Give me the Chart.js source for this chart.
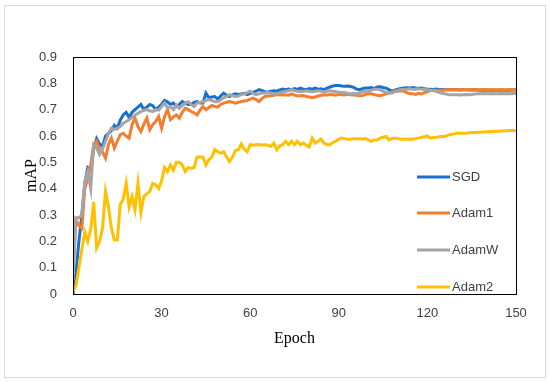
<!DOCTYPE html>
<html>
<head>
<meta charset="utf-8">
<script src="https://cdn.jsdelivr.net/npm/chart.js@4"></script>
<style>
  html, body { margin: 0; padding: 0; background: #fff; }
  #wrap { position: relative; width: 550px; height: 383px; }
  #frame { position: absolute; left: 4px; top: 5px; width: 540px; height: 371px; border: 1px solid #d9d9d9; pointer-events: none; }
</style>
</head>
<body>
<div id="wrap">
  <canvas id="mapChart" width="550" height="383"></canvas>
  <div id="frame"></div>
</div>
<script>
// epochs 0..150
const epochs = Array.from({ length: 151 }, (_, i) => i);

const sgd = [
  0.00, 0.08, 0.20, 0.30, 0.42, 0.48, 0.47, 0.55, 0.59, 0.57,
  0.56, 0.60, 0.61, 0.62, 0.64, 0.63, 0.66, 0.68, 0.69, 0.67,
  0.69, 0.70, 0.71, 0.72, 0.70, 0.71, 0.72, 0.715, 0.70, 0.71,
  0.72, 0.735, 0.73, 0.72, 0.725, 0.712, 0.72, 0.731, 0.725, 0.72,
  0.72, 0.728, 0.731, 0.725, 0.725, 0.763, 0.745, 0.748, 0.75, 0.74,
  0.752, 0.763, 0.755, 0.75, 0.756, 0.76, 0.758, 0.76, 0.762, 0.757,
  0.762, 0.766, 0.77, 0.776, 0.772, 0.768, 0.766, 0.77, 0.772, 0.77,
  0.775, 0.778, 0.776, 0.778, 0.776, 0.78, 0.777, 0.782, 0.778, 0.776,
  0.78, 0.778, 0.782, 0.778, 0.779, 0.776, 0.782, 0.786, 0.79, 0.792,
  0.792, 0.79, 0.789, 0.79, 0.788, 0.785, 0.778, 0.776, 0.78, 0.782,
  0.782, 0.784, 0.78, 0.786, 0.787, 0.784, 0.782, 0.776, 0.77, 0.774,
  0.778, 0.78, 0.782, 0.783, 0.782, 0.784, 0.782, 0.781, 0.782, 0.779,
  0.778, 0.778, 0.777, 0.778, 0.776, 0.777, 0.776, 0.776, 0.777, 0.776,
  0.776, 0.775, 0.776, 0.776, 0.775, 0.776, 0.775, 0.775, 0.774, 0.774,
  0.775, 0.774, 0.774, 0.774, 0.774, 0.775, 0.774, 0.774, 0.774, 0.775,
  0.775
];

const adam1 = [
  0.10, 0.28, 0.26, 0.25, 0.40, 0.44, 0.49, 0.567, 0.58, 0.55,
  0.54, 0.516, 0.567, 0.592, 0.554, 0.58, 0.605, 0.61, 0.60, 0.592,
  0.643, 0.668, 0.636, 0.617, 0.645, 0.668, 0.624, 0.643, 0.655, 0.674,
  0.63, 0.674, 0.70, 0.662, 0.672, 0.68, 0.668, 0.69, 0.706, 0.70,
  0.693, 0.688, 0.68, 0.698, 0.712, 0.70, 0.708, 0.716, 0.712, 0.71,
  0.72, 0.725, 0.728, 0.731, 0.728, 0.725, 0.728, 0.731, 0.733, 0.735,
  0.74, 0.744, 0.738, 0.731, 0.742, 0.75, 0.752, 0.753, 0.755, 0.757,
  0.757, 0.756, 0.757, 0.755, 0.76, 0.755, 0.752, 0.753, 0.754, 0.75,
  0.748, 0.745, 0.748, 0.752, 0.755, 0.757, 0.756, 0.758, 0.757, 0.755,
  0.758, 0.757, 0.756, 0.758, 0.757, 0.756, 0.755, 0.753, 0.754, 0.758,
  0.76, 0.76, 0.757, 0.755, 0.753, 0.756, 0.76, 0.763, 0.766, 0.77,
  0.77, 0.772, 0.77, 0.765, 0.76, 0.76, 0.758, 0.762, 0.76, 0.765,
  0.768, 0.772, 0.774, 0.774, 0.772, 0.774, 0.775, 0.776, 0.776, 0.776,
  0.777, 0.776, 0.776, 0.777, 0.776, 0.776, 0.777, 0.776, 0.776, 0.777,
  0.776, 0.776, 0.777, 0.776, 0.776, 0.777, 0.776, 0.776, 0.777, 0.776,
  0.776
];

const adamW = [
  0.05, 0.29, 0.29, 0.30, 0.427, 0.465, 0.40, 0.567, 0.554, 0.53,
  0.55, 0.58, 0.61, 0.63, 0.625, 0.63, 0.636, 0.649, 0.655, 0.662,
  0.67, 0.68, 0.686, 0.693, 0.698, 0.70, 0.696, 0.693, 0.70, 0.698,
  0.712, 0.725, 0.706, 0.712, 0.70, 0.718, 0.705, 0.715, 0.725, 0.73,
  0.72, 0.712, 0.725, 0.728, 0.73, 0.735, 0.738, 0.735, 0.73, 0.73,
  0.738, 0.745, 0.75, 0.757, 0.753, 0.75, 0.752, 0.757, 0.76, 0.765,
  0.77, 0.762, 0.757, 0.76, 0.763, 0.763, 0.765, 0.763, 0.76, 0.76,
  0.764, 0.766, 0.77, 0.772, 0.776, 0.772, 0.77, 0.768, 0.77, 0.772,
  0.77, 0.768, 0.77, 0.772, 0.77, 0.768, 0.77, 0.772, 0.77, 0.768,
  0.766, 0.764, 0.765, 0.762, 0.76, 0.762, 0.76, 0.764, 0.768, 0.77,
  0.77, 0.774, 0.778, 0.778, 0.775, 0.77, 0.765, 0.763, 0.763, 0.768,
  0.774, 0.776, 0.778, 0.778, 0.779, 0.778, 0.778, 0.779, 0.778, 0.777,
  0.776, 0.774, 0.772, 0.77, 0.766, 0.762, 0.76, 0.758, 0.757, 0.757,
  0.757, 0.756, 0.757, 0.758, 0.757, 0.758, 0.759, 0.76, 0.76, 0.761,
  0.76, 0.76, 0.761, 0.76, 0.76, 0.761, 0.76, 0.761, 0.76, 0.761,
  0.761
];

const adam2 = [
  0.01, 0.03, 0.10, 0.17, 0.235, 0.20, 0.245, 0.35, 0.175, 0.20,
  0.25, 0.39, 0.33, 0.25, 0.205, 0.205, 0.34, 0.36, 0.42, 0.33,
  0.37, 0.32, 0.42, 0.31, 0.37, 0.38, 0.39, 0.42, 0.415, 0.40,
  0.43, 0.48, 0.465, 0.49, 0.47, 0.50, 0.50, 0.49, 0.465, 0.48,
  0.478, 0.48, 0.52, 0.52, 0.52, 0.49, 0.51, 0.52, 0.548, 0.54,
  0.535, 0.54, 0.52, 0.503, 0.52, 0.545, 0.548, 0.57, 0.55, 0.54,
  0.567, 0.566, 0.567, 0.568, 0.566, 0.567, 0.565, 0.56, 0.573, 0.548,
  0.562, 0.567, 0.58, 0.567, 0.58, 0.567, 0.58, 0.567, 0.573, 0.565,
  0.558, 0.592, 0.573, 0.58, 0.588, 0.573, 0.567, 0.567, 0.575, 0.58,
  0.588, 0.592, 0.59, 0.588, 0.588, 0.59, 0.59, 0.59, 0.589, 0.59,
  0.585, 0.58, 0.585, 0.585, 0.592, 0.595, 0.598, 0.585, 0.59, 0.592,
  0.59, 0.588, 0.588, 0.588, 0.589, 0.588, 0.59, 0.592, 0.595, 0.597,
  0.60, 0.592, 0.594, 0.595, 0.597, 0.598, 0.598, 0.603, 0.606, 0.608,
  0.61, 0.61, 0.61, 0.61, 0.612, 0.613, 0.613, 0.614, 0.614, 0.615,
  0.616, 0.616, 0.617, 0.618, 0.618, 0.619, 0.62, 0.62, 0.621, 0.621,
  0.62
];

const seriesNames = ["SGD", "Adam1", "AdamW", "Adam2"];
const seriesValues = [sgd, adam1, adamW, adam2];
const seriesColors = ["#1a70d0", "#f27e30", "#a5a5a5", "#ffc000"];

const xTicks = [0, 30, 60, 90, 120, 150];

// box round the plot + legend inside the plot area (bottom right)
const boxAndLegend = {
  id: "boxAndLegend",
  afterDatasetsDraw(chart) {
    const { ctx, chartArea: a } = chart;
    ctx.save();
    ctx.strokeStyle = "#000";
    ctx.lineWidth = 1;
    ctx.strokeRect(Math.round(a.left) + 0.5, Math.round(a.top) + 0.5,
      Math.round(a.right - a.left), Math.round(a.bottom - a.top));

    const legendY = [177, 213, 250, 287];
    ctx.font = "13px 'Liberation Sans', Arial, sans-serif";
    ctx.textBaseline = "middle";
    ctx.fillStyle = "#404040";
    chart.data.datasets.forEach((ds, i) => {
      const y = legendY[i];
      ctx.strokeStyle = ds.borderColor;
      ctx.lineWidth = 3;
      ctx.beginPath();
      ctx.moveTo(417, y);
      ctx.lineTo(450, y);
      ctx.stroke();
      ctx.fillText(ds.label, 452, y);
    });
    ctx.restore();
  }
};

const ctx = document.getElementById("mapChart").getContext("2d");
new Chart(ctx, {
  type: "line",
  data: {
    datasets: seriesNames.map((name, i) => ({
      label: name,
      data: epochs.map((e, j) => ({ x: e, y: seriesValues[i][j] })),
      borderColor: seriesColors[i],
      backgroundColor: seriesColors[i],
      borderWidth: 3,
      pointRadius: 0,
      tension: 0,
      fill: false,
      order: 4 - i
    }))
  },
  options: {
    responsive: false,
    animation: false,
    devicePixelRatio: 1,
    layout: { padding: { left: 0, top: 57, right: 34, bottom: 0 } },
    plugins: {
      legend: { display: false },
      tooltip: { enabled: false }
    },
    scales: {
      x: {
        type: "linear",
        min: 0,
        max: 150,
        afterBuildTicks: scale => { scale.ticks = xTicks.map(v => ({ value: v })); },
        afterFit: scale => { scale.height = 89; },
        grid: { display: false, drawTicks: false },
        border: { display: false },
        ticks: {
          padding: 12,
          maxRotation: 0,
          color: "#404040",
          font: { family: "'Liberation Sans', Arial, sans-serif", size: 13 }
        },
        title: {
          display: true,
          text: "Epoch",
          color: "#000",
          font: { family: "'Liberation Serif', 'Times New Roman', serif", size: 16 },
          padding: { top: 0, bottom: 35 }
        }
      },
      y: {
        min: 0,
        max: 0.9,
        afterFit: scale => { scale.width = 73; },
        grid: { display: false, drawTicks: false },
        border: { display: false },
        ticks: {
          stepSize: 0.1,
          padding: 16,
          color: "#404040",
          font: { family: "'Liberation Sans', Arial, sans-serif", size: 13 },
          callback: v => (v === 0 ? "0" : v.toFixed(1))
        },
        title: {
          display: true,
          text: "mAP",
          color: "#000",
          font: { family: "'Liberation Serif', 'Times New Roman', serif", size: 16 },
          padding: { top: 22, bottom: 0 }
        }
      }
    }
  },
  plugins: [boxAndLegend]
});
</script>
</body>
</html>
